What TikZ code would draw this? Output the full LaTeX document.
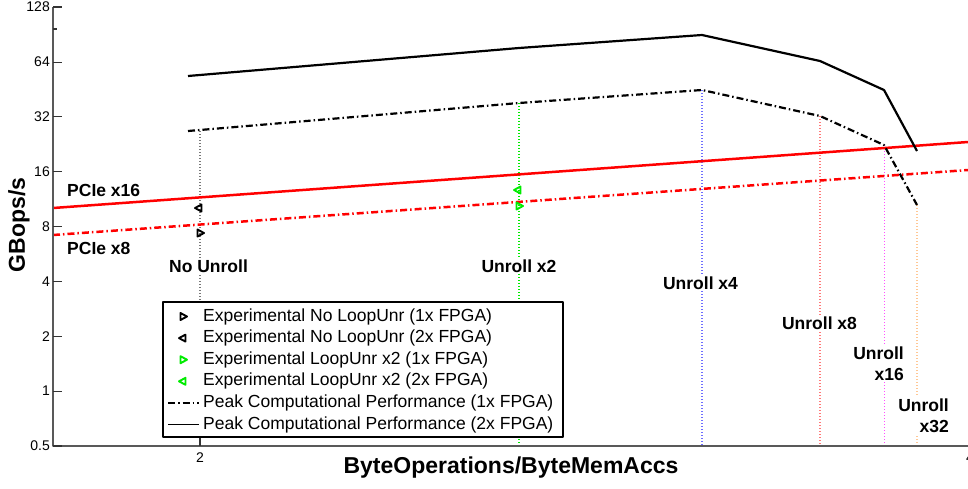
\documentclass[tikz,border=0pt]{standalone}
\usepackage{fontspec}
\setmainfont{Liberation Sans}
\definecolor{mgreen}{RGB}{0,235,0}
\definecolor{vblue}{RGB}{110,110,255}
\definecolor{vred}{RGB}{255,120,120}
\definecolor{vmag}{RGB}{255,80,255}
\definecolor{vorange}{RGB}{255,200,150}
\definecolor{vgray}{RGB}{120,120,120}
\definecolor{pred}{RGB}{255,0,0}
\begin{document}
\begin{tikzpicture}[x=1pt,y=-1pt,line join=round,
  axline/.style={draw=black!65,line width=1.3pt},
  tickmark/.style={draw=black!80,line width=1.1pt},
  ticklab/.style={font=\fontsize{14}{16}\selectfont,inner sep=0pt},
  lab/.style={font=\bfseries\fontsize{17.5}{21}\selectfont,fill=white,inner sep=2pt},
  plainlab/.style={font=\bfseries\fontsize{17.5}{21}\selectfont,inner sep=0pt},
  leg/.style={font=\fontsize{17.5}{20}\selectfont,anchor=west,inner sep=0pt},
  ddash/.style={dash pattern=on 7pt off 3pt on 1.5pt off 3pt},
  vline/.style={line width=1.3pt,dash pattern=on 1pt off 2pt},
  bigl/.style={font=\bfseries\fontsize{23}{26}\selectfont,inner sep=0pt},
  mkr/.pic={\draw[line width=1.9pt,pic actions] (-2.5,-3.5) -- (4,0) -- (-2.5,3.5) -- cycle;},
  mkl/.pic={\draw[line width=1.9pt,pic actions] (2.5,-3.5) -- (-4,0) -- (2.5,3.5) -- cycle;}
]
\useasboundingbox (0,0) rectangle (968,488);

% vertical dotted guide lines
\draw[vline,vgray]   (200,131) -- (200,446);
\draw[vline,mgreen]  (519,103) -- (519,446);
\draw[vline,vblue]   (702,90)  -- (702,446);
\draw[vline,vred]    (820,116) -- (820,446);
\draw[vline,vmag]    (884.5,145) -- (884.5,446);
\draw[vline,vorange] (917,205) -- (917,446);

% PCIe bandwidth lines
\draw[pred,line width=2.5pt] (53,208) -- (968,142);
\draw[pred,line width=2.5pt,ddash] (53,235) -- (968,170);

% peak computational performance
\draw[black,line width=2.2pt] (188,76) -- (519,48) -- (702,35) -- (820,61) -- (884,90) -- (917,151);
\draw[black,line width=2.2pt,ddash] (188,131) -- (519,103) -- (702,90) -- (820,116) -- (884,145) -- (917,205);

% experimental markers
\pic[color=black]  at (200,233) {mkr};
\pic[color=black]  at (199,208) {mkl};
\pic[color=mgreen] at (519,206) {mkr};
\pic[color=mgreen] at (518,190) {mkl};

% labels
\node[plainlab,anchor=west] (p16) at (67,190) {PCIe x16};
\node[plainlab,anchor=west] (p8)  at (67,248) {PCIe x8};
\node[lab] (nu)  at (208.5,266) {No Unroll};
\node[lab] (u2)  at (519,266) {Unroll x2};
\node[lab] (u4)  at (700.5,283) {Unroll x4};
\node[lab] (u8)  at (819.5,323) {Unroll x8};
\node[lab,align=right,anchor=east] (u16) at (906,363.5) {Unroll\\x16};
\node[lab,align=right,anchor=east] (u32) at (951,416) {Unroll\\x32};

% legend
\draw[black,line width=1.3pt,fill=white] (163,302) rectangle (563,437);
\pic[color=black]  at (183,316.5) {mkr};
\pic[color=black]  at (183,338.1) {mkl};
\pic[color=mgreen] at (183,359.7) {mkr};
\pic[color=mgreen] at (183,381.3) {mkl};
\draw[black,line width=1.6pt,ddash] (168,402.9) -- (199,402.9);
\draw[black,line width=1.6pt] (168,424.5) -- (199,424.5);
\node[leg] (l1) at (203,316.5) {Experimental No LoopUnr (1x FPGA)};
\node[leg] (l2) at (203,338.1) {Experimental No LoopUnr (2x FPGA)};
\node[leg] (l3) at (203,359.7) {Experimental LoopUnr x2 (1x FPGA)};
\node[leg] (l4) at (203,381.3) {Experimental LoopUnr x2 (2x FPGA)};
\node[leg] (l5) at (203,402.9) {Peak Computational Performance (1x FPGA)};
\node[leg] (l6) at (203,424.5) {Peak Computational Performance (2x FPGA)};

% axes
\draw[axline] (53,7) -- (53,446) -- (968,446);
\foreach \yy/\lbl in {7/128,62.1/64,116.9/32,171.6/16,226.5/8,281.4/4,336.3/2,391.1/1,446/0.5}{
  \draw[tickmark] (53,\yy) -- (62,\yy);
  \node[ticklab,anchor=east] at (50,\yy) {\lbl};
}
\draw[tickmark] (53,29) -- (57,29);
\draw[tickmark] (200,446) -- (200,438);
\node[ticklab] (x2) at (200,457.5) {2};
\node[ticklab] (x4) at (970,457.5) {4};

\node[bigl] (xlab) at (511,468) {ByteOperations/ByteMemAccs};
\node[bigl,rotate=90] (ylab) at (19,225) {GBops/s};
\end{tikzpicture}
\end{document}
